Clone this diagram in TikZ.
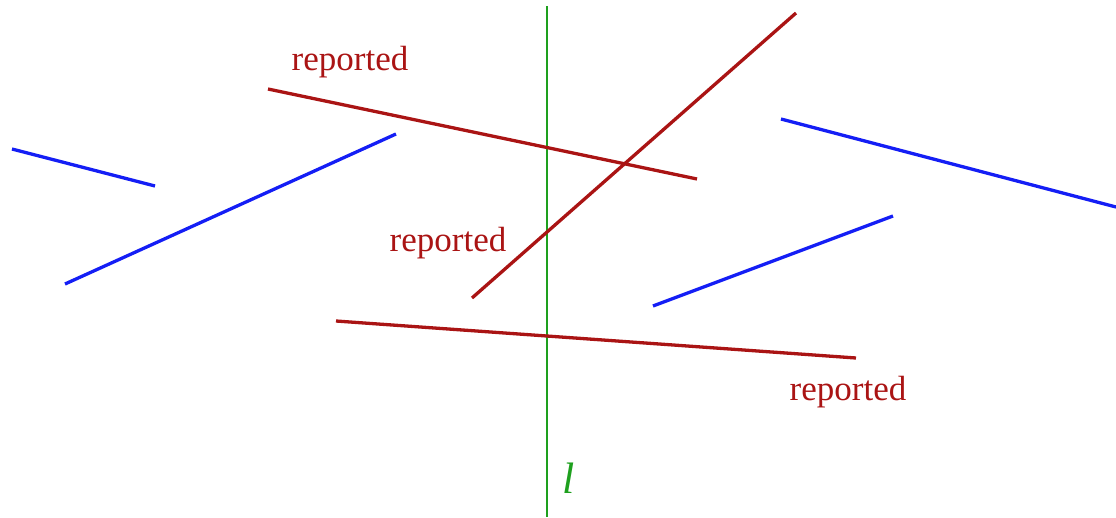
\documentclass[tikz,border=0pt]{standalone}
\usepackage{fontspec}
\setmainfont{Liberation Serif}
\definecolor{segblue}{RGB}{20,30,245}
\definecolor{segred}{RGB}{170,20,20}
\definecolor{lgreen}{RGB}{30,160,30}
\tikzset{
  bluesegment/.style={draw=segblue, line width=3.3pt},
  redsegment/.style={draw=segred, line width=3.3pt},
  sweepline/.style={draw=lgreen, line width=1.6pt},
  replabel/.style={text=segred, font=\fontsize{35}{38}\selectfont, inner sep=0pt},
}
\begin{document}
\begin{tikzpicture}[x=1pt,y=-1pt]
\useasboundingbox (0,0) rectangle (1116,517);
% sweep line
\coordinate (lt) at (547,6);
\coordinate (lb) at (547,517);
\draw[sweepline] (lt) -- (lb);
\node[text=lgreen, font=\fontsize{44}{48}\selectfont\itshape, inner sep=0pt] (lname) at (569,478) {l};
% blue segments
\coordinate (b1a) at (12,149);  \coordinate (b1b) at (155,186);
\coordinate (b2a) at (65,284);  \coordinate (b2b) at (396,134);
\coordinate (b3a) at (781,119); \coordinate (b3b) at (1116,207);
\coordinate (b4a) at (653,306); \coordinate (b4b) at (893,216);
\draw[bluesegment] (b1a) -- (b1b);
\draw[bluesegment] (b2a) -- (b2b);
\draw[bluesegment] (b3a) -- (b3b);
\draw[bluesegment] (b4a) -- (b4b);
% red segments
\coordinate (r1a) at (268,89);  \coordinate (r1b) at (697,179);
\coordinate (r2a) at (472,298); \coordinate (r2b) at (796,13);
\coordinate (r3a) at (336,321); \coordinate (r3b) at (856,358);
\draw[redsegment] (r1a) -- (r1b);
\draw[redsegment] (r2a) -- (r2b);
\draw[redsegment] (r3a) -- (r3b);
% labels
\node[replabel] (rep1) at (350,62) {reported};
\node[replabel] (rep2) at (448,243) {reported};
\node[replabel] (rep3) at (848,392) {reported};
\end{tikzpicture}
\end{document}
